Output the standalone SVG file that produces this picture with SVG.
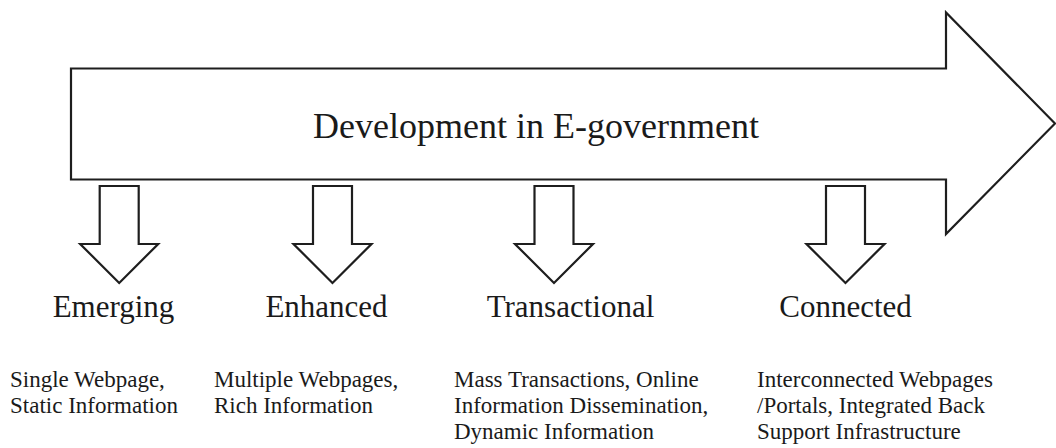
<svg xmlns="http://www.w3.org/2000/svg" xmlns:xlink="http://www.w3.org/1999/xlink" width="1056" height="448" viewBox="0 0 1056 448">
<style>
.shape{fill:#ffffff;stroke:#1e1e1e;stroke-width:2.2;stroke-linejoin:miter}
.title{font-family:"Liberation Serif","Times New Roman",serif;font-size:36px;fill:#1a1a1a;text-anchor:middle}
.label{font-family:"Liberation Serif","Times New Roman",serif;font-size:31px;fill:#1a1a1a;text-anchor:middle}
.desc{font-family:"Liberation Serif","Times New Roman",serif;font-size:23px;fill:#1a1a1a}
</style>
<defs>
<path id="down" d="M-19.5,186 L19.5,186 L19.5,244 L39,244 L0,283 L-39,244 L-19.5,244 Z"/>
</defs>
<rect width="1056" height="448" fill="#ffffff"/>
<g id="main-arrow">
<polygon class="shape" points="71,68.5 946,68.5 946,12.5 1055,123.5 946,234 946,179.5 71,179.5"/>
<text class="title" x="536" y="138">Development in E-government</text>
</g>
<g id="connectors">
<use xlink:href="#down" class="shape" transform="translate(119.2,0)"/>
<use xlink:href="#down" class="shape" transform="translate(332.5,0)"/>
<use xlink:href="#down" class="shape" transform="translate(554,0)"/>
<use xlink:href="#down" class="shape" transform="translate(845.5,0)"/>
</g>
<g id="emerging">
<text class="label" x="113.5" y="317">Emerging</text>
<text class="desc" x="10" y="387">Single Webpage,</text>
<text class="desc" x="10" y="413">Static Information</text>
</g>
<g id="enhanced">
<text class="label" x="326.5" y="317">Enhanced</text>
<text class="desc" x="214" y="387">Multiple Webpages,</text>
<text class="desc" x="214" y="413">Rich Information</text>
</g>
<g id="transactional">
<text class="label" x="570.5" y="317">Transactional</text>
<text class="desc" x="454" y="387">Mass Transactions, Online</text>
<text class="desc" x="454" y="413">Information Dissemination,</text>
<text class="desc" x="454" y="439">Dynamic Information</text>
</g>
<g id="connected">
<text class="label" x="845.5" y="317">Connected</text>
<text class="desc" x="757" y="387">Interconnected Webpages</text>
<text class="desc" x="757" y="413">/Portals, Integrated Back</text>
<text class="desc" x="757" y="439">Support Infrastructure</text>
</g>
</svg>
